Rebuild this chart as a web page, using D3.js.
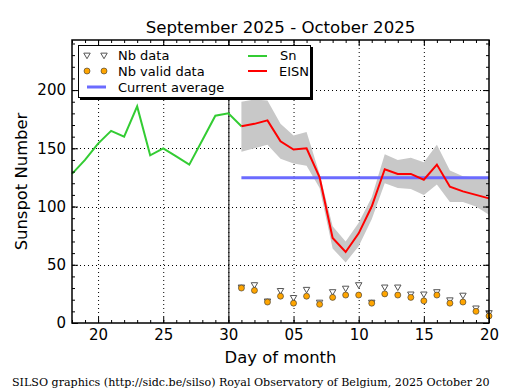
<!DOCTYPE html>
<html>
<head>
<meta charset="utf-8">
<script src="https://cdn.jsdelivr.net/npm/d3@7"></script>
<style>
  body { margin: 0; background: #fff; }
  text { font-family: "DejaVu Sans", sans-serif; }
</style>
</head>
<body>
<svg></svg>
<script>
const WIDTH = 515;
const HEIGHT = 390;
const LEFT = 72, RIGHT = 489, TOP = 40, BOTTOM = 323;

// daily sunspot number Sn, Sep 18 .. Oct 1
const snStart = "2025-09-18";
const snValues = [128, 140, 154, 165, 160, 186, 144, 150, 143, 136, 157, 178, 180, 169];

// EISN, Oct 1 .. Oct 20
const eisnStart = "2025-10-01";
const eisnValues = [169, 171, 174, 156, 149, 150, 125, 73, 61, 77, 100, 132, 128, 128, 123, 136, 117, 113, 110, 107];
const eisnUpper = [190, 192, 191, 171, 161, 164, 128, 83, 70, 86, 108, 145, 140, 142, 138, 153, 131, 126, 125, 123];
const eisnLower = [147, 150, 153, 141, 137, 135, 116, 64, 52, 66, 89, 120, 116, 115, 110, 119, 104, 104, 100, 93];

// number of stations
const nbData = [31, 33, 19, 28, 22, 29, 18, 27, 30, 33, 18, 31, 31, 25, 25, 27, 20, 24, 13, 9];
const nbValid = [30, 28, 18, 23, 17, 23, 16, 22, 24, 24, 17, 25, 24, 22, 19, 24, 17, 18, 10, 6];

const currentAverage = 124.7;

const xTickDays = ["2025-09-20", "2025-09-25", "2025-09-30", "2025-10-05", "2025-10-10", "2025-10-15", "2025-10-20"];
const yTicks = [0, 50, 100, 150, 200];

const parse = d3.utcParse("%Y-%m-%d");
const day = (start, i) => d3.utcDay.offset(parse(start), i);

let svg = d3.select("svg")
    .attr("width", WIDTH)
    .attr("height", HEIGHT);

const x = d3.scaleUtc()
    .domain([parse("2025-09-18"), parse("2025-10-20")])
    .range([LEFT, RIGHT]);
const y = d3.scaleLinear()
    .domain([0, 243])
    .range([BOTTOM, TOP]);

// grid
const grid = svg.append("g")
    .attr("stroke", "black")
    .attr("stroke-width", 1)
    .attr("stroke-dasharray", "1,3");
xTickDays.slice(0, -1).forEach(d => {
    grid.append("line")
        .attr("x1", x(parse(d)) + 0.5).attr("x2", x(parse(d)) + 0.5)
        .attr("y1", TOP).attr("y2", BOTTOM);
});
yTicks.slice(1).forEach(v => {
    grid.append("line")
        .attr("x1", LEFT).attr("x2", RIGHT)
        .attr("y1", Math.round(y(v)) + 0.5).attr("y2", Math.round(y(v)) + 0.5);
});

// uncertainty band
const eisn = eisnValues.map((v, i) => ({ date: day(eisnStart, i), v: v, hi: eisnUpper[i], lo: eisnLower[i] }));
svg.append("path")
    .attr("d", d3.area().x(d => x(d.date)).y0(d => y(d.lo)).y1(d => y(d.hi))(eisn))
    .attr("fill", "#c8c8c8")
    .attr("stroke", "none");

// current average
svg.append("line")
    .attr("x1", x(day(eisnStart, 0))).attr("x2", x(day(eisnStart, eisnValues.length - 1)))
    .attr("y1", y(currentAverage)).attr("y2", y(currentAverage))
    .attr("stroke", "#6b6bff")
    .attr("stroke-width", 3);

// separator for current month
svg.append("line")
    .attr("x1", x(parse("2025-09-30")) + 0.5).attr("x2", x(parse("2025-09-30")) + 0.5)
    .attr("y1", TOP).attr("y2", BOTTOM)
    .attr("stroke", "black")
    .attr("stroke-width", 1);

const line = d3.line().x(d => x(d.date)).y(d => y(d.v));

const sn = snValues.map((v, i) => ({ date: day(snStart, i), v: v }));
svg.append("path")
    .attr("d", line(sn))
    .attr("fill", "none")
    .attr("stroke", "#33cc33")
    .attr("stroke-width", 2);

svg.append("path")
    .attr("d", line(eisn))
    .attr("fill", "none")
    .attr("stroke", "#ff0000")
    .attr("stroke-width", 2);

// station counts
const tri = d3.symbol().type(d3.symbolTriangle).size(18);
nbData.forEach((v, i) => {
    svg.append("path")
        .attr("d", tri())
        .attr("transform", `translate(${x(day(eisnStart, i))},${y(v)}) rotate(180)`)
        .attr("fill", "white")
        .attr("stroke", "#555")
        .attr("stroke-width", 1);
});
nbValid.forEach((v, i) => {
    svg.append("circle")
        .attr("cx", x(day(eisnStart, i)))
        .attr("cy", y(v))
        .attr("r", 3)
        .attr("fill", "#ffa500")
        .attr("stroke", "#333")
        .attr("stroke-width", 0.6);
});

// frame
svg.append("rect")
    .attr("x", LEFT).attr("y", TOP)
    .attr("width", RIGHT - LEFT).attr("height", BOTTOM - TOP)
    .attr("fill", "none")
    .attr("stroke", "black")
    .attr("stroke-width", 1.5);

// axes: ticks inside, on all sides
const xMinor = d3.utcDay.range(parse("2025-09-18"), d3.utcDay.offset(parse("2025-10-20"), 1));
const xMajor = xTickDays.map(parse);
const fmt = d3.utcFormat("%d");

svg.append("g")
    .attr("transform", `translate(0,${BOTTOM})`)
    .call(d3.axisBottom(x).tickValues(xMajor).tickFormat(fmt).tickSizeInner(-6).tickSizeOuter(0).tickPadding(6))
    .call(g => g.select(".domain").remove())
    .call(g => g.selectAll("text").attr("font-size", 15).attr("font-family", "DejaVu Sans").attr("fill", "black"));
svg.append("g")
    .attr("transform", `translate(0,${BOTTOM})`)
    .call(d3.axisBottom(x).tickValues(xMinor).tickFormat("").tickSizeInner(-3).tickSizeOuter(0))
    .call(g => g.select(".domain").remove());
svg.append("g")
    .attr("transform", `translate(0,${TOP})`)
    .call(d3.axisTop(x).tickValues(xMajor).tickFormat("").tickSizeInner(-6).tickSizeOuter(0))
    .call(g => g.select(".domain").remove());
svg.append("g")
    .attr("transform", `translate(0,${TOP})`)
    .call(d3.axisTop(x).tickValues(xMinor).tickFormat("").tickSizeInner(-3).tickSizeOuter(0))
    .call(g => g.select(".domain").remove());

const yMinor = d3.range(0, 241, 10);
svg.append("g")
    .attr("transform", `translate(${LEFT},0)`)
    .call(d3.axisLeft(y).tickValues(yTicks).tickSizeInner(-6).tickSizeOuter(0).tickPadding(6))
    .call(g => g.select(".domain").remove())
    .call(g => g.selectAll("text").attr("font-size", 15).attr("font-family", "DejaVu Sans").attr("fill", "black"));
svg.append("g")
    .attr("transform", `translate(${LEFT},0)`)
    .call(d3.axisLeft(y).tickValues(yMinor).tickFormat("").tickSizeInner(-3).tickSizeOuter(0))
    .call(g => g.select(".domain").remove());
svg.append("g")
    .attr("transform", `translate(${RIGHT},0)`)
    .call(d3.axisRight(y).tickValues(yTicks).tickFormat("").tickSizeInner(-6).tickSizeOuter(0))
    .call(g => g.select(".domain").remove());
svg.append("g")
    .attr("transform", `translate(${RIGHT},0)`)
    .call(d3.axisRight(y).tickValues(yMinor).tickFormat("").tickSizeInner(-3).tickSizeOuter(0))
    .call(g => g.select(".domain").remove());

// titles
svg.append("text")
    .attr("x", (LEFT + RIGHT) / 2).attr("y", 33)
    .attr("text-anchor", "middle")
    .attr("font-size", 16.6)
    .text("September 2025 - October 2025");
svg.append("text")
    .attr("x", (LEFT + RIGHT) / 2).attr("y", 363)
    .attr("text-anchor", "middle")
    .attr("font-size", 16.4)
    .text("Day of month");
svg.append("text")
    .attr("transform", `translate(27,${(TOP + BOTTOM) / 2}) rotate(-90)`)
    .attr("text-anchor", "middle")
    .attr("font-size", 16.4)
    .text("Sunspot Number");
svg.append("text")
    .attr("x", 12).attr("y", 386)
    .attr("font-size", 11.1)
    .style("font-family", "DejaVu Serif, serif")
    .text("SILSO graphics (http://sidc.be/silso) Royal Observatory of Belgium, 2025 October 20");

// legend
const lg = svg.append("g");
lg.append("rect")
    .attr("x", 80).attr("y", 47).attr("width", 233).attr("height", 53)
    .attr("fill", "black");
lg.append("rect")
    .attr("x", 78.5).attr("y", 45.5).attr("width", 232).attr("height", 52)
    .attr("fill", "white")
    .attr("stroke", "black")
    .attr("stroke-width", 1);

[87, 104].forEach(px => {
    lg.append("path").attr("d", tri())
        .attr("transform", `translate(${px},55) rotate(180)`)
        .attr("fill", "white").attr("stroke", "#555");
    lg.append("circle").attr("cx", px).attr("cy", 71).attr("r", 3)
        .attr("fill", "#ffa500").attr("stroke", "#333").attr("stroke-width", 0.6);
});
lg.append("line").attr("x1", 87).attr("x2", 106).attr("y1", 87).attr("y2", 87)
    .attr("stroke", "#6b6bff").attr("stroke-width", 3);
lg.append("line").attr("x1", 248).attr("x2", 267).attr("y1", 56).attr("y2", 56)
    .attr("stroke", "#33cc33").attr("stroke-width", 2);
lg.append("line").attr("x1", 248).attr("x2", 267).attr("y1", 71).attr("y2", 71)
    .attr("stroke", "#ff0000").attr("stroke-width", 2);

const legendText = [["Nb data", 118, 60], ["Nb valid data", 118, 76], ["Current average", 118, 92], ["Sn", 280, 60], ["EISN", 279, 76]];
legendText.forEach(([t, lx, ly]) => {
    lg.append("text").attr("x", lx).attr("y", ly).attr("font-size", 13).text(t);
});
</script>
</body>
</html>
